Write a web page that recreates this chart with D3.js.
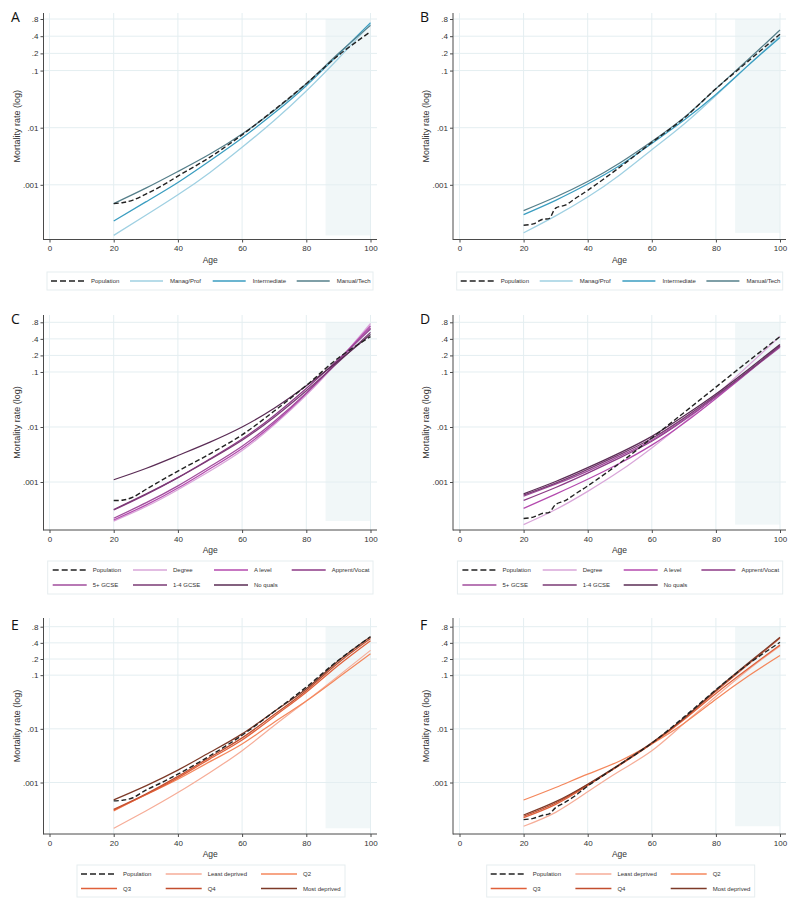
<!DOCTYPE html>
<html><head><meta charset="utf-8">
<script src="https://cdn.jsdelivr.net/npm/d3@7"></script>
<style>body{margin:0;background:#fff}svg{display:block}</style>
</head><body>
<svg id="c" width="797" height="914"></svg>
<script>
// ---------------- DATA ----------------
const ages = [20, 30, 40, 50, 60, 70, 80, 90, 100];
const xTicks = [0, 20, 40, 60, 80, 100];
const yTicks = [0.001, 0.01, 0.1, 0.2, 0.4, 0.8];
const yTickLabels = [".001", ".01", ".1", ".2", ".4", ".8"];
const shadeAges = [86, 100];

// Population (dashed), one per panel
const popAgesM = [20, 23, 26, 30, 35, 40, 50, 60, 70, 80, 90, 100];
const popAgesF = [20, 23, 26, 28, 30, 33, 36, 40, 50, 60, 70, 80, 90, 100];
const popA = [4.69e-4, 4.9e-4, 5.4e-4, 6.85e-4, 9.6e-4, 1.42e-3, 3.05e-3, 7.5e-3, 0.0205, 0.059, 0.185, 0.479];
const popB = [1.96e-4, 2.07e-4, 2.5e-4, 2.57e-4, 3.9e-4, 4.4e-4, 5.7e-4, 8.0e-4, 2.03e-3, 5.52e-3, 0.0146, 0.048, 0.145, 0.433];
const popC = [4.61e-4, 4.7e-4, 5.3e-4, 7.3e-4, 1.08e-3, 1.58e-3, 3.25e-3, 7.2e-3, 0.0195, 0.057, 0.18, 0.44];
const popD = [2.17e-4, 2.3e-4, 2.7e-4, 2.8e-4, 3.9e-4, 4.6e-4, 6.0e-4, 8.5e-4, 2.2e-3, 6.3e-3, 0.0182, 0.053, 0.155, 0.44];
const popE = [4.54e-4, 4.7e-4, 5.2e-4, 7.2e-4, 1.0e-3, 1.43e-3, 3.15e-3, 7.6e-3, 0.021, 0.06, 0.19, 0.52];
const popF = [2.03e-4, 2.15e-4, 2.45e-4, 2.6e-4, 3.4e-4, 4.3e-4, 5.6e-4, 8.6e-4, 2.15e-3, 5.4e-3, 0.0165, 0.0535, 0.16, 0.41];

// Occupation
const occLabels = ["Population", "Manag/Prof", "Intermediate", "Manual/Tech"];
const managProfA = [1.30e-4, 2.92e-4, 6.67e-4, 1.65e-3, 4.54e-3, 0.01336, 0.0439, 0.1626, 0.653];
const intermediateA = [2.32e-4, 5.02e-4, 1.10e-3, 2.64e-3, 6.62e-3, 0.018, 0.0544, 0.191, 0.689];
const manualTechA = [4.69e-4, 8.73e-4, 1.71e-3, 3.46e-3, 7.78e-3, 0.020, 0.059, 0.199, 0.619];
const managProfB = [1.44e-4, 2.86e-4, 6.11e-4, 1.49e-3, 4.11e-3, 0.0115, 0.0367, 0.122, 0.405];
const intermediateB = [3.01e-4, 5.35e-4, 1.03e-3, 2.17e-3, 5.31e-3, 0.0135, 0.0382, 0.122, 0.379];
const manualTechB = [3.53e-4, 6.11e-4, 1.14e-3, 2.41e-3, 5.74e-3, 0.0150, 0.048, 0.155, 0.515];

// Education
const eduLabels = ["Population", "Degree", "A level", "Apprent/Vocat", "5+ GCSE", "1-4 GCSE", "No quals"];
const degreeC = [1.95e-4, 3.55e-4, 7.24e-4, 1.58e-3, 3.72e-3, 0.011, 0.038, 0.158, 0.76];
const aLevelC = [2.04e-4, 3.8e-4, 7.76e-4, 1.74e-3, 4.07e-3, 0.0117, 0.0407, 0.162, 0.69];
const apprentC = [3.09e-4, 5.89e-4, 1.2e-3, 2.63e-3, 6.03e-3, 0.0162, 0.050, 0.17, 0.60];
const gcse5C = [2.19e-4, 4.17e-4, 8.51e-4, 1.91e-3, 4.47e-3, 0.0126, 0.0417, 0.158, 0.63];
const gcse14C = [3.16e-4, 6.03e-4, 1.2e-3, 2.57e-3, 5.75e-3, 0.0151, 0.0457, 0.151, 0.525];
const noQualsC = [1.10e-3, 1.76e-3, 3.03e-3, 5.32e-3, 0.0100, 0.0219, 0.0562, 0.158, 0.48];
const degreeD = [1.68e-4, 3.16e-4, 6.76e-4, 1.58e-3, 4.17e-3, 0.012, 0.038, 0.129, 0.447];
const aLevelD = [3.31e-4, 6.03e-4, 1.12e-3, 2.19e-3, 4.68e-3, 0.0117, 0.0331, 0.098, 0.30];
const apprentD = [4.62e-4, 7.94e-4, 1.45e-3, 2.75e-3, 5.5e-3, 0.0132, 0.0355, 0.102, 0.302];
const gcse5D = [5.5e-4, 9.12e-4, 1.58e-3, 2.95e-3, 5.75e-3, 0.0135, 0.0355, 0.10, 0.282];
const gcse14D = [5.79e-4, 9.55e-4, 1.70e-3, 3.16e-3, 6.17e-3, 0.0145, 0.0372, 0.102, 0.295];
const noQualsD = [6.1e-4, 1.02e-3, 1.82e-3, 3.39e-3, 6.76e-3, 0.0158, 0.0398, 0.110, 0.316];

// Deprivation
const depLabels = ["Population", "Least deprived", "Q2", "Q3", "Q4", "Most deprived"];
const leastE = [1.40e-4, 2.95e-4, 6.5e-4, 1.54e-3, 3.92e-3, 0.0115, 0.033, 0.097, 0.29];
const q2E = [2.95e-4, 5.9e-4, 1.15e-3, 2.45e-3, 5.22e-3, 0.0133, 0.0329, 0.09, 0.25];
const q3E = [3.05e-4, 5.9e-4, 1.22e-3, 2.76e-3, 6.2e-3, 0.017, 0.048, 0.153, 0.44];
const q4E = [3.15e-4, 6.1e-4, 1.3e-3, 2.96e-3, 6.78e-3, 0.0184, 0.052, 0.17, 0.48];
const mostE = [4.74e-4, 8.67e-4, 1.70e-3, 3.65e-3, 8.05e-3, 0.021, 0.056, 0.185, 0.52];
const leastF = [1.53e-4, 2.78e-4, 6.7e-4, 1.64e-3, 3.9e-3, 0.0125, 0.040, 0.125, 0.35];
const q2F = [4.71e-4, 8.07e-4, 1.43e-3, 2.52e-3, 5.25e-3, 0.0126, 0.0355, 0.0955, 0.232];
const q3F = [2.22e-4, 3.92e-4, 8.8e-4, 2.1e-3, 5.25e-3, 0.0148, 0.0457, 0.132, 0.366];
const q4F = [2.35e-4, 4.15e-4, 9.12e-4, 2.15e-3, 5.37e-3, 0.0155, 0.050, 0.158, 0.49];
const mostF = [2.48e-4, 4.4e-4, 9.3e-4, 2.19e-3, 5.5e-3, 0.0158, 0.0525, 0.166, 0.507];

// ---------------- STYLE / LAYOUT ----------------
const occColors = ["#9fd0e2", "#3a9dc0", "#557f8a"];
const eduColors = ["#d9a6d9", "#b44aae", "#8c3a86", "#a04c9c", "#7a3a74", "#5a2c55"];
const depColors = ["#f6ad98", "#f4875c", "#e0603a", "#c24e2e", "#7d3a28"];

const cols = [
  {x0: 49.5, x100: 370.5, axL: 43.5, axR: 377, letterX: 11, titleX: 16.5, dx: 0},
  {x0: 459.5, x100: 780, axL: 453, axR: 786, letterX: 420, titleX: 426, dx: 409.7}
];
const rows = [
  {y08: 19, y001: 184.8, axT: 13, axB: 239.5, letterY: 22, ageY: 263},
  {y08: 322.3, y001: 482, axT: 315, axB: 530, letterY: 324, ageY: 553},
  {y08: 626.7, y001: 782.5, axT: 618, axB: 834, letterY: 630, ageY: 857}
];
const legends = {
  occ: {box: [47, 373, 272, 290], rowY: [281], colX: [51, 130, 212.7, 296.7], len: 33, gap: 7,
        slots: [[0,0],[0,1],[0,2],[0,3]]},
  edu: {box: [47.7, 373, 561, 594], rowY: [570, 585], colX: [52.7, 133, 214, 291.7], len: 34, gap: 6,
        slots: [[0,0],[0,1],[0,2],[0,3],[1,0],[1,1],[1,2]]},
  dep: {box: [77, 345, 865, 897], rowY: [874, 888.5], colX: [81, 165.7, 261], len: 36, gap: 6,
        slots: [[0,0],[0,1],[0,2],[1,0],[1,1],[1,2]]}
};

const panels = [
  {letter: "A", col: 0, row: 0, leg: "occ", labels: occLabels, colors: occColors, popA: popAgesM, pop: popA,
   series: [managProfA, intermediateA, manualTechA]},
  {letter: "B", col: 1, row: 0, leg: "occ", labels: occLabels, colors: occColors, popA: popAgesF, pop: popB,
   series: [managProfB, intermediateB, manualTechB]},
  {letter: "C", col: 0, row: 1, leg: "edu", labels: eduLabels, colors: eduColors, popA: popAgesM, pop: popC,
   series: [degreeC, aLevelC, apprentC, gcse5C, gcse14C, noQualsC]},
  {letter: "D", col: 1, row: 1, leg: "edu", labels: eduLabels, colors: eduColors, popA: popAgesF, pop: popD,
   series: [degreeD, aLevelD, apprentD, gcse5D, gcse14D, noQualsD]},
  {letter: "E", col: 0, row: 2, leg: "dep", labels: depLabels, colors: depColors, popA: popAgesM, pop: popE,
   series: [leastE, q2E, q3E, q4E, mostE]},
  {letter: "F", col: 1, row: 2, leg: "dep", labels: depLabels, colors: depColors, popA: popAgesF, pop: popF,
   series: [leastF, q2F, q3F, q4F, mostF]}
];

const svg = d3.select("#c");
const FONT = "'Liberation Sans', Arial, sans-serif";
const gridColor = "#e4eef1";
const axisColor = "#4a4a4a";
const popDash = "5,2.6";

panels.forEach(p => {
  const c = cols[p.col], r = rows[p.row];
  const g = svg.append("g");
  const x = d3.scaleLinear().domain([0, 100]).range([c.x0, c.x100]);
  const y = d3.scaleLog().domain([0.8, 0.001]).range([r.y08, r.y001]);

  // shaded age band
  const yMin = d3.min(p.series.flat().concat(p.pop));
  g.append("rect")
    .attr("x", x(shadeAges[0])).attr("width", x(shadeAges[1]) - x(shadeAges[0]))
    .attr("y", y(0.8)).attr("height", y(yMin) - y(0.8))
    .attr("fill", "#f1f7f8");

  // grid
  g.selectAll(".vg").data(xTicks).join("line")
    .attr("x1", d => x(d)).attr("x2", d => x(d))
    .attr("y1", r.axT).attr("y2", r.axB)
    .attr("stroke", gridColor).attr("stroke-width", 1);
  g.selectAll(".hg").data(yTicks).join("line")
    .attr("x1", c.axL).attr("x2", c.axR)
    .attr("y1", d => y(d)).attr("y2", d => y(d))
    .attr("stroke", gridColor).attr("stroke-width", 1);

  // axes
  const ya = d3.axisLeft(y).tickValues(yTicks).tickFormat((d, i) => yTickLabels[i]).tickSize(3).tickPadding(2);
  const yg = g.append("g").attr("transform", `translate(${c.axL},0)`).call(ya);
  const xa = d3.axisBottom(x).tickValues(xTicks).tickSize(3).tickPadding(3);
  const xg = g.append("g").attr("transform", `translate(0,${r.axB})`).call(xa);
  [yg, xg].forEach(a => {
    a.select(".domain").remove();
    a.selectAll("line").attr("stroke", axisColor);
    a.selectAll("text").attr("font-family", FONT).attr("font-size", 8).attr("fill", "#333");
  });
  g.append("line").attr("x1", c.axL).attr("x2", c.axL).attr("y1", r.axT).attr("y2", r.axB + 0.5)
    .attr("stroke", axisColor).attr("stroke-width", 1);
  g.append("line").attr("x1", c.axL).attr("x2", c.axR).attr("y1", r.axB).attr("y2", r.axB)
    .attr("stroke", axisColor).attr("stroke-width", 1);

  // titles
  g.append("text").attr("x", (c.axL + c.axR) / 2).attr("y", r.ageY)
    .attr("text-anchor", "middle").attr("font-family", FONT).attr("font-size", 8.5).attr("fill", "#333").text("Age");
  g.append("text").attr("transform", `translate(${c.titleX},${(r.axT + r.axB) / 2}) rotate(-90)`)
    .attr("text-anchor", "middle").attr("dy", "0.35em").attr("font-family", FONT).attr("font-size", 9)
    .attr("fill", "#333").text("Mortality rate (log)");
  g.append("text").attr("x", c.letterX).attr("y", r.letterY)
    .attr("font-family", "'Open Sans', sans-serif").attr("font-size", 14).attr("fill", "#111").text(p.letter);

  // lines
  const line = d3.line().x(d => x(d[0])).y(d => y(d[1])).curve(d3.curveNatural);
  const popLine = d3.line().x(d => x(d[0])).y(d => y(d[1])).curve(d3.curveCatmullRom.alpha(0.5));
  p.series.forEach((s, i) => {
    g.append("path").attr("d", line(ages.map((a, j) => [a, s[j]])))
      .attr("fill", "none").attr("stroke", p.colors[i]).attr("stroke-width", 1.25);
  });
  g.append("path").attr("d", popLine(p.popA.map((a, j) => [a, p.pop[j]])))
    .attr("fill", "none").attr("stroke", "#222").attr("stroke-width", 1.4).attr("stroke-dasharray", popDash);

  // legend
  const L = legends[p.leg];
  g.append("rect").attr("x", L.box[0] + c.dx).attr("y", L.box[2])
    .attr("width", L.box[1] - L.box[0]).attr("height", L.box[3] - L.box[2])
    .attr("fill", "#fff").attr("stroke", "#e6edef").attr("stroke-width", 1);
  p.labels.forEach((lab, i) => {
    const [ri, ci] = L.slots[i];
    const lx = L.colX[ci] + c.dx, ly = L.rowY[ri];
    const isPop = i === 0;
    g.append("line").attr("x1", lx).attr("x2", lx + L.len).attr("y1", ly).attr("y2", ly)
      .attr("stroke", isPop ? "#222" : p.colors[i - 1]).attr("stroke-width", isPop ? 1.5 : 1.7)
      .attr("stroke-dasharray", isPop ? "6,3" : null);
    g.append("text").attr("x", lx + L.len + L.gap).attr("y", ly).attr("dy", "0.35em")
      .attr("font-family", FONT).attr("font-size", 6).attr("fill", "#333").text(lab);
  });
});
</script>
</body></html>
